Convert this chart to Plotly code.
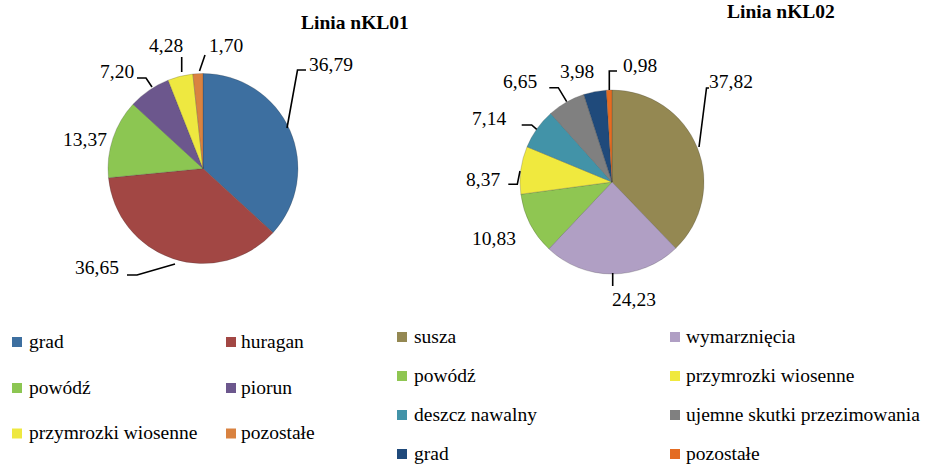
import plotly.graph_objects as go

# ---- data ----
cats1 = ["grad", "huragan", "powódź", "piorun", "przymrozki wiosenne", "pozostałe"]
vals1 = [36.79, 36.65, 13.37, 7.20, 4.28, 1.70]
cols1 = ["#3D6FA0", "#A24744", "#8CC652", "#6C578D", "#EEE840", "#D98240"]

cats2 = ["susza", "wymarznięcia", "powódź", "przymrozki wiosenne", "deszcz nawalny",
         "ujemne skutki przezimowania", "grad", "pozostałe"]
vals2 = [37.82, 24.23, 10.83, 8.37, 7.14, 6.65, 3.98, 0.98]
cols2 = ["#948852", "#B09FC4", "#8FC652", "#F0E93E", "#4293A8", "#808080", "#1F4A7B", "#E46C22"]

title1 = "Linia nKL01"
title2 = "Linia nKL02"

W, H = 927, 465
FONT = "Liberation Serif, Times New Roman, serif"
FS = 19.5
DY = -1  # visual text centre correction


def px(x):
    return x / W


def py(y):
    return 1 - y / H


def fmt(v):
    return f"{v:.2f}".replace(".", ",")


# ---- layout helpers (pixel positions) ----
pie1_c, pie1_r = (203, 168.5), 95
pie2_c, pie2_r = (612, 182), 92

lab1_pos = [(331, 65), (97, 268), (85, 140), (117, 72), (166, 47), (226, 47)]
lead1 = [
    [(287, 128), (297.5, 70), (306, 70)],
    [(175, 264), (137, 275), (127, 275)],
    None,
    [(152, 87), (146, 78), (137, 78)],
    [(181.7, 72), (181.7, 57)],
    [(199.5, 71), (205, 55)],
]
lab2_pos = [(731, 83), (634, 300), (494, 239), (483, 180), (489, 120), (520, 83), (577, 72), (640, 66)]
lead2 = [
    [(699, 147), (706.5, 88), (709, 88)],
    [(612.7, 273), (612.7, 286)],
    None,
    [(520, 171), (517.3, 184.3), (508.3, 184.3)],
    [(536.7, 129.3), (531.7, 125), (521.7, 125)],
    [(566.7, 101.7), (558.3, 87.7), (549.3, 87.7)],
    None,
    [(609.3, 90), (609.3, 71), (617, 71)],
]

leg1_sq_x = [12, 226]
leg1_tx_x = [27, 239]
leg1_rows = [342, 388, 433.5]
leg2_sq_x = [397, 670]
leg2_tx_x = [412, 684]
leg2_rows = [337, 376, 415, 454]
SQ = 10


def domain(c, r):
    return dict(x=[px(c[0] - r), px(c[0] + r)], y=[py(c[1] + r), py(c[1] - r)])


fig = go.Figure()
for cats, vals, cols, c, r in [(cats1, vals1, cols1, pie1_c, pie1_r),
                               (cats2, vals2, cols2, pie2_c, pie2_r)]:
    fig.add_trace(go.Pie(
        labels=cats, values=vals, sort=False, direction="clockwise", rotation=0,
        marker=dict(colors=cols, line=dict(color="rgba(50,50,50,0.45)", width=0.5)),
        textinfo="none", hoverinfo="label+value", showlegend=False,
        domain=domain(c, r),
    ))

annotations = []
shapes = []

for vals, pos, leads in [(vals1, lab1_pos, lead1), (vals2, lab2_pos, lead2)]:
    for v, p, ld in zip(vals, pos, leads):
        annotations.append(dict(x=px(p[0]), y=py(p[1] + DY), xref="paper", yref="paper",
                                text=fmt(v), showarrow=False, xanchor="center", yanchor="middle",
                                font=dict(family=FONT, size=FS, color="#000")))
        if ld:
            path = "M " + " L ".join(f"{px(a)} {py(b)}" for a, b in ld)
            shapes.append(dict(type="path", path=path, xref="paper", yref="paper",
                               line=dict(color="#000", width=1.6)))

for t, (x, y) in [(title1, (355, 23)), (title2, (781, 13))]:
    annotations.append(dict(x=px(x), y=py(y + DY), xref="paper", yref="paper",
                            text=f"<b>{t}</b>", showarrow=False, xanchor="center", yanchor="middle",
                            font=dict(family=FONT, size=FS, color="#000")))

for cats, cols, sqx, txx, rows in [(cats1, cols1, leg1_sq_x, leg1_tx_x, leg1_rows),
                                   (cats2, cols2, leg2_sq_x, leg2_tx_x, leg2_rows)]:
    for i, (cat, col) in enumerate(zip(cats, cols)):
        row, colm = divmod(i, 2)
        yy = rows[row]
        x0 = sqx[colm]
        shapes.append(dict(type="rect", xref="paper", yref="paper",
                           x0=px(x0), x1=px(x0 + SQ), y0=py(yy - SQ / 2), y1=py(yy + SQ / 2),
                           fillcolor=col, line=dict(width=0)))
        annotations.append(dict(x=px(txx[colm]), y=py(yy + DY), xref="paper", yref="paper",
                                text=cat, showarrow=False, xanchor="left", yanchor="middle",
                                font=dict(family=FONT, size=FS, color="#000")))

fig.update_layout(width=W, height=H, margin=dict(l=0, r=0, t=0, b=0),
                  paper_bgcolor="white", plot_bgcolor="white",
                  annotations=annotations, shapes=shapes)

fig.write_html("out.html", config={"displayModeBar": False},
               post_script="document.body.style.margin='0px';document.body.style.overflow='hidden';")
